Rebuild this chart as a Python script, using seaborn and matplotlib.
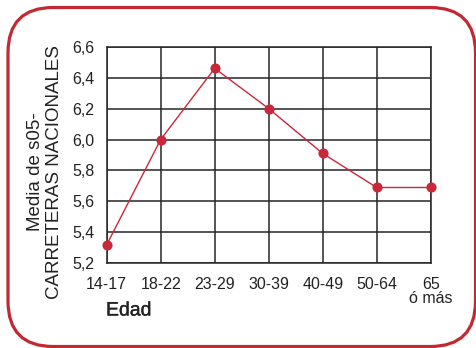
import matplotlib
matplotlib.use("Agg")
import matplotlib.pyplot as plt
from matplotlib.patches import FancyBboxPatch
import matplotlib.patheffects as pe
import seaborn as sns
import pandas as pd

categories = ["14-17", "18-22", "23-29", "30-39", "40-49", "50-64", "65\nó más"]
values = [5.32, 6.00, 6.46, 6.20, 5.91, 5.69, 5.69]
yticks = [5.2, 5.4, 5.6, 5.8, 6.0, 6.2, 6.4, 6.6]
ytick_labels = ["5,2", "5,4", "5,6", "5,8", "6,0", "6,2", "6,4", "6,6"]

sns.set_style("white")
plt.rcParams["font.family"] = ["Liberation Sans", "DejaVu Sans"]

df = pd.DataFrame({"pos": range(len(categories)), "val": values})

W, H = 477, 348
fig = plt.figure(figsize=(W / 100, H / 100), dpi=100)
fig.patch.set_facecolor("white")

# rounded border
box = FancyBboxPatch((8 / W, 1 - 346.5 / H), (475.5 - 8) / W, (346.5 - 7.5) / H,
                     boxstyle="round,pad=0,rounding_size=0.095",
                     transform=fig.transFigure, facecolor="none",
                     edgecolor="#c22a33", linewidth=2.3, mutation_aspect=W / H,
                     clip_on=False)
fig.patches.append(box)

ax = fig.add_axes([106.7 / W, 1 - 263.3 / H, (430.7 - 106.7) / W, (263.3 - 46.7) / H])
gc = "#262626"
sns.lineplot(data=df, x="pos", y="val", ax=ax, color="#c8283a", linewidth=1.0,
             marker="o", markersize=7.3, markeredgewidth=0, zorder=5, clip_on=False)
ax.set_xlim(0, 6)
ax.set_ylim(5.2, 6.6)
ax.set_xticks(range(len(categories)))
ax.set_xticklabels(categories, fontsize=11.5, color="#222222", linespacing=0.95)
ax.set_yticks(yticks)
ax.set_yticklabels(ytick_labels, fontsize=11.5, color="#222222")
ax.grid(True, color=gc, linewidth=1.1)
for s in ax.spines.values():
    s.set_visible(True)
    s.set_color(gc)
    s.set_linewidth(1.1)
ax.tick_params(axis="both", direction="out", length=4.8, width=1.1, color=gc)
ax.tick_params(axis="x", pad=5)
ax.tick_params(axis="y", pad=4)
ax.set_xlabel("")
ax.set_ylabel("")

fig.text(45 / W, 1 - 172 / H, "Media de s05-\nCARRETERAS NACIONALES", rotation=90,
         ha="center", va="center", fontsize=13.5, color="#222222", linespacing=1.2)
fig.text(106 / W, 1 - 311 / H, "Edad", ha="left", va="center", fontsize=14,
         color="#222222",
         path_effects=[pe.withStroke(linewidth=0.25, foreground="#222222")])

fig.savefig("out.png", dpi=100, facecolor="white")
